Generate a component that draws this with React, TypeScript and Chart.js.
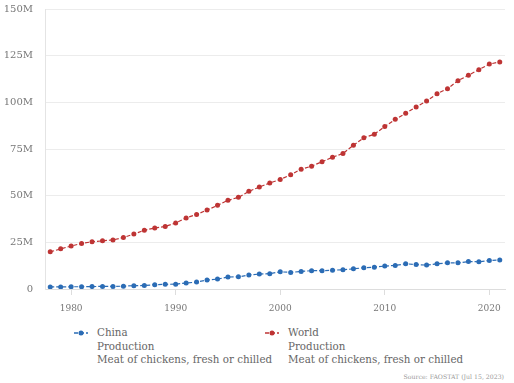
import React, { useEffect, useRef } from "react";
import { Chart, registerables } from "chart.js";
Chart.register(...registerables);

const years = [
  1978, 1979, 1980, 1981, 1982, 1983, 1984, 1985, 1986, 1987, 1988, 1989,
  1990, 1991, 1992, 1993, 1994, 1995, 1996, 1997, 1998, 1999, 2000, 2001,
  2002, 2003, 2004, 2005, 2006, 2007, 2008, 2009, 2010, 2011, 2012, 2013,
  2014, 2015, 2016, 2017, 2018, 2019, 2020, 2021,
];
// million tonnes
const chinaValues = [
  1.1, 1.1, 1.2, 1.2, 1.3, 1.4, 1.4, 1.5, 1.8, 1.9, 2.3, 2.5, 2.6, 3.2, 3.7,
  4.8, 5.3, 6.4, 6.5, 7.5, 8.0, 8.2, 9.2, 8.9, 9.4, 9.8, 9.8, 10.1, 10.3, 10.8,
  11.4, 11.7, 12.3, 12.6, 13.5, 13.1, 12.8, 13.5, 14.0, 14.0, 14.7, 14.6, 15.3,
  15.5,
];
const worldValues = [
  19.9, 21.5, 23.0, 24.4, 25.3, 25.8, 26.3, 27.6, 29.4, 31.5, 32.7, 33.5, 35.4,
  38.1, 39.9, 42.3, 44.8, 47.5, 49.1, 52.3, 54.6, 56.8, 58.7, 61.2, 64.2, 65.8,
  68.2, 70.6, 72.6, 77.0, 81.0, 82.9, 87.0, 90.9, 94.1, 97.5, 100.7, 104.6,
  107.3, 111.6, 114.5, 117.5, 120.5, 121.6,
];
const yTickValues = [0, 25, 50, 75, 100, 125, 150];
const xTickYears = [1980, 1990, 2000, 2010, 2020];
const seriesNames = ["China", "World"];
const legendSubLines = ["Production", "Meat of chickens, fresh or chilled"];
const sourceText = "Source: FAOSTAT (Jul 15, 2023)";

const BLUE = "#2b6cb5";
const RED = "#be3434";
const FONT = "'DejaVu Serif', serif";

function Marker({ color }: { color: string }) {
  return (
    <svg width="14" height="8" style={{ display: "block" }}>
      <line x1="0" y1="4" x2="14" y2="4" stroke={color} strokeWidth="1.3" strokeDasharray="4 2" />
      <circle cx="7" cy="4" r="2.5" fill={color} />
    </svg>
  );
}

export default function App() {
  const canvasRef = useRef<HTMLCanvasElement | null>(null);

  useEffect(() => {
    document.body.style.margin = "0";
    const ctx = canvasRef.current;
    if (!ctx) return;
    const mk = (vals: number[]) => years.map((y, i) => ({ x: y, y: vals[i] }));
    const chart = new Chart(ctx, {
      type: "line",
      data: {
        datasets: [
          {
            label: seriesNames[0],
            data: mk(chinaValues),
            borderColor: BLUE,
            backgroundColor: BLUE,
            borderWidth: 1.2,
            borderDash: [4, 2],
            pointRadius: 2.5,
            pointBorderWidth: 0,
            pointBackgroundColor: BLUE,
            tension: 0,
          },
          {
            label: seriesNames[1],
            data: mk(worldValues),
            borderColor: RED,
            backgroundColor: RED,
            borderWidth: 1.2,
            borderDash: [4, 2],
            pointRadius: 2.5,
            pointBorderWidth: 0,
            pointBackgroundColor: RED,
            tension: 0,
          },
        ],
      },
      options: {
        animation: false,
        responsive: true,
        maintainAspectRatio: false,
        layout: { padding: { top: 2, right: 9, left: 0, bottom: 0 } },
        plugins: { legend: { display: false }, tooltip: { enabled: false } },
        scales: {
          x: {
            type: "linear",
            min: years[0] - 0.5,
            max: years[years.length - 1] + 0.5,
            afterBuildTicks: (s: any) => {
              s.ticks = xTickYears.map((v) => ({ value: v }));
            },
            afterFit: (s: any) => {
              s.height = 33;
            },
            grid: {
              drawOnChartArea: false,
              drawTicks: true,
              tickLength: 6,
              color: "#dddddd",
            },
            border: { display: true, color: "#dddddd" },
            ticks: {
              padding: 8,
              color: "#777777",
              font: { family: FONT, size: 9 },
              maxRotation: 0,
              autoSkip: false,
              callback: (v: any) => String(v),
            },
          },
          y: {
            min: 0,
            max: 150,
            afterBuildTicks: (s: any) => {
              s.ticks = yTickValues.map((v) => ({ value: v }));
            },
            afterFit: (s: any) => {
              s.width = 45;
            },
            grid: { color: "#ececec", drawTicks: false },
            border: { display: true, color: "#e4e4e4" },
            ticks: {
              padding: 12,
              color: "#777777",
              font: { family: FONT, size: 10 },
              callback: (v: any) => (v === 0 ? "0" : v + "M"),
            },
          },
        },
      },
    });
    return () => chart.destroy();
  }, []);

  const legendItem = (name: string, color: string, markerLeft: number, textLeft: number) => (
    <>
      <div style={{ position: "absolute", left: markerLeft, top: 329 }}>
        <Marker color={color} />
      </div>
      <div
        style={{
          position: "absolute",
          left: textLeft,
          top: 326,
          fontFamily: FONT,
          fontSize: 10.3,
          lineHeight: "13.5px",
          color: "#666666",
          whiteSpace: "nowrap",
        }}
      >
        <div>{name}</div>
        {legendSubLines.map((l) => (
          <div key={l}>{l}</div>
        ))}
      </div>
    </>
  );

  return (
    <div style={{ position: "relative", width: 514, height: 383, background: "#fff", overflow: "hidden" }}>
      <div style={{ position: "absolute", left: 0, top: -9, width: 514, height: 331 }}>
        <canvas ref={canvasRef} />
      </div>
      {legendItem(seriesNames[0], BLUE, 74, 97)}
      {legendItem(seriesNames[1], RED, 265, 288)}
      <div
        style={{
          position: "absolute",
          right: 10,
          top: 372,
          fontFamily: FONT,
          fontSize: 6.2,
          lineHeight: "10px",
          color: "#999999",
          whiteSpace: "nowrap",
        }}
      >
        {sourceText}
      </div>
    </div>
  );
}
